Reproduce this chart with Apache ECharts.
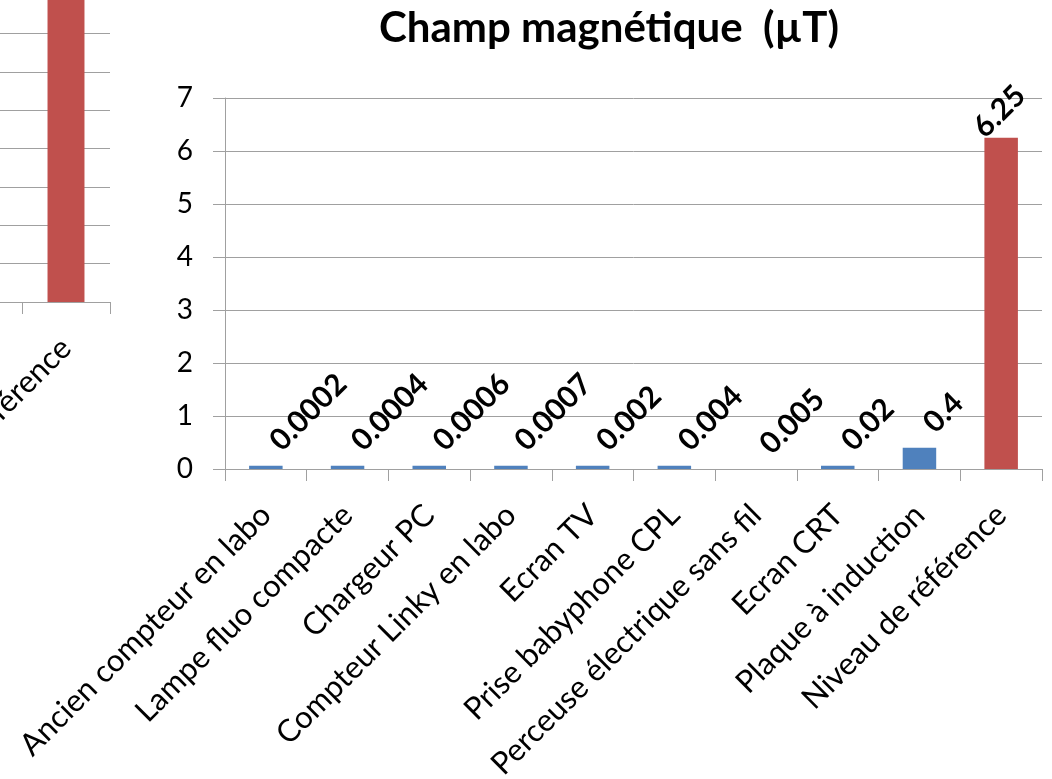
<!DOCTYPE html>
<html>
<head>
<meta charset="utf-8">
<title>Champ magnétique</title>
<script src="https://cdn.jsdelivr.net/npm/echarts@6/dist/echarts.min.js"></script>
<style>
  html, body { margin: 0; padding: 0; background: #fff; }
  #chart { width: 1052px; height: 779px; }
</style>
</head>
<body>
<div id="chart"></div>
<script>
// catégories du graphique principal
const categories = [
  "Ancien compteur en labo",
  "Lampe fluo compacte",
  "Chargeur PC",
  "Compteur Linky en labo",
  "Ecran TV",
  "Prise babyphone CPL",
  "Perceuse électrique sans fil",
  "Ecran CRT",
  "Plaque à induction",
  "Niveau de référence"
];

// hauteurs des barres telles que dessinées (µT)
const barHeights = [0.06, 0.06, 0.06, 0.06, 0.06, 0.06, 0, 0.06, 0.4, 6.25];

// étiquettes de valeurs affichées au-dessus des barres
const valueLabels = ["0.0002", "0.0004", "0.0006", "0.0007", "0.002", "0.004", "0.005", "0.02", "0.4", "6.25"];

// graphe voisin (coupé à gauche) : seule la dernière barre est visible
const leftCategories = ["", "Niveau de référence"];
const leftValues = [null, 9];

const BLUE = "#4F81BD";
const RED = "#C0504D";
const GRID = "#a0a0a0";
const FONT = "Lato";

const chart = echarts.init(document.getElementById("chart"), null, { renderer: "canvas" });

const REF = "Niveau de référence";

// NB : l'offset des étiquettes tournées s'applique dans le repère du texte
const mainData = barHeights.map((v, i) => {
  const item = {
    value: v,
    itemStyle: { color: categories[i] === REF ? RED : BLUE }
  };
  if (categories[i] === REF) item.label = { offset: [-25, 8] };
  return item;
});

const catLabel = {
  rotate: 45,
  interval: 0,
  hideOverlap: false,
  margin: 41,
  color: "#000",
  fontFamily: FONT,
  fontSize: 31
};

const option = {
  animation: false,
  backgroundColor: "#fff",
  title: {
    text: "Champ magnétique  (µT)",
    left: 604,
    top: 2,
    textAlign: "center",
    textStyle: { fontFamily: FONT, fontWeight: "bold", fontSize: 42, color: "#000" }
  },
  grid: [
    { left: 225, right: 10, top: 98, bottom: 310, outerBoundsMode: "none" },
    { left: -66, right: 942, top: -43, bottom: 477, outerBoundsMode: "none" }
  ],
  xAxis: [
    {
      gridIndex: 0,
      type: "category",
      data: categories,
      axisLine: { lineStyle: { color: GRID, width: 1 } },
      axisTick: { show: true, length: 12, interval: 0, lineStyle: { color: GRID } },
      axisLabel: catLabel
    },
    {
      gridIndex: 1,
      type: "category",
      data: leftCategories,
      axisLine: { lineStyle: { color: GRID, width: 1 } },
      axisTick: { show: true, length: 12, interval: 0, lineStyle: { color: GRID } },
      axisLabel: catLabel
    }
  ],
  yAxis: [
    {
      gridIndex: 0,
      type: "value",
      min: 0, max: 7, interval: 1,
      axisLine: { show: true, lineStyle: { color: GRID } },
      axisTick: { show: true, length: 12, lineStyle: { color: GRID } },
      splitLine: { lineStyle: { color: GRID, width: 1 } },
      axisLabel: { margin: 32, color: "#000", fontFamily: FONT, fontSize: 28 }
    },
    {
      gridIndex: 1,
      type: "value",
      min: 0, max: 9, interval: 1,
      axisLine: { show: true, lineStyle: { color: GRID } },
      axisTick: { show: true, length: 12, lineStyle: { color: GRID } },
      splitLine: { lineStyle: { color: GRID, width: 1 } },
      axisLabel: { show: false }
    }
  ],
  series: [
    {
      type: "bar",
      xAxisIndex: 0,
      yAxisIndex: 0,
      data: mainData,
      barWidth: "41%",
      label: {
        show: true,
        position: "top",
        distance: 18,
        offset: [8, 20],
        rotate: 45,
        align: "left",
        verticalAlign: "bottom",
        formatter: (p) => valueLabels[p.dataIndex],
        color: "#000",
        fontFamily: FONT,
        fontWeight: "bold",
        fontSize: 30
      }
    },
    {
      type: "bar",
      xAxisIndex: 1,
      yAxisIndex: 1,
      data: leftValues,
      barWidth: "42%",
      itemStyle: { color: RED }
    }
  ]
};

chart.setOption(option);
window.addEventListener("resize", () => chart.resize());
</script>
</body>
</html>
